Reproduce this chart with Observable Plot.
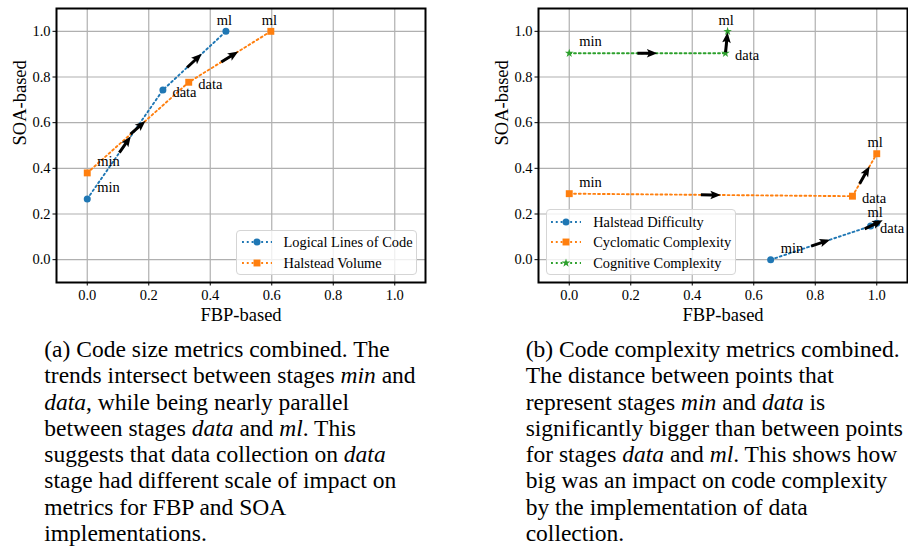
<!DOCTYPE html>
<html><head><meta charset="utf-8">
<script src="https://cdn.jsdelivr.net/npm/d3@7"></script>
<script src="https://cdn.jsdelivr.net/npm/@observablehq/plot@0.6"></script>
<style>
html,body{margin:0;padding:0;background:#fff;}
body{width:908px;height:546px;overflow:hidden;font-family:"Liberation Serif","Times New Roman",serif;color:#000;}
#wrap{display:flex;}
.panel{position:relative;width:454px;flex:none;}
.panel > svg{display:block;}
.caption{font-size:23.5px;line-height:26.3px;white-space:nowrap;margin-top:11px;}
.legend{position:absolute;border:1px solid #d5d5d5;border-radius:4px;background:rgba(255,255,255,0.8);box-sizing:border-box;}
.row{position:absolute;left:0;right:0;height:20px;}
.row svg{position:absolute;top:0;}
.row span{position:absolute;top:0;line-height:20px;font-size:14.4px;white-space:nowrap;}
</style></head>
<body>
<div id="wrap"><div class="panel" id="pa"></div><div class="panel" id="pb"></div></div>
<script>
// ---- data ----
const stages = ["min", "data", "ml"];
const axisTicks = [0, 0.2, 0.4, 0.6, 0.8, 1.0];
const xDomain = [-0.1, 1.1];
const yDomain = [-0.1, 1.1];

const sizeMetrics = ["Logical Lines of Code", "Halstead Volume"];
const sizeFBP = [[0.000, 0.246, 0.451], [0.000, 0.330, 0.597]];
const sizeSOA = [[0.266, 0.743, 1.000], [0.380, 0.777, 1.000]];

const complexityMetrics = ["Halstead Difficulty", "Cyclomatic Complexity", "Cognitive Complexity"];
const complexityFBP = [[0.655, 0.980, 1.000], [0.000, 0.921, 1.000], [0.000, 0.508, 0.515]];
const complexitySOA = [[0.000, 0.147, 0.160], [0.289, 0.278, 0.464], [0.904, 0.904, 1.000]];

const xLabel = "FBP-based";
const yLabel = "SOA-based";

const captionA = [
  "(a) Code size metrics combined. The",
  "trends intersect between stages <i>min</i> and",
  "<i>data</i>, while being nearly parallel",
  "between stages <i>data</i> and <i>ml</i>. This",
  "suggests that data collection on <i>data</i>",
  "stage had different scale of impact on",
  "metrics for FBP and SOA",
  "implementations."
];
const captionB = [
  "(b) Code complexity metrics combined.",
  "The distance between points that",
  "represent stages <i>min</i> and <i>data</i> is",
  "significantly bigger than between points",
  "for stages <i>data</i> and <i>ml</i>. This shows how",
  "big was an impact on code complexity",
  "by the implementation of data",
  "collection."
];

// ---- styles ----
const colors = ["#1f77b4", "#ff7f0e", "#2ca02c"];
const symbols = ["circle", "square", "star"];
const dotR = [3.5, 3.9, 2.7];
const d3Symbols = [d3.symbolCircle, d3.symbolSquare, d3.symbolStar];

const W = 454, H = 325, MT = 8, MB = 43;
const fmt = d3.format(".1f");

const arrowShape = {
  draw(context, l) {
    const sw = 1.5, hw = 4.3, hl = 10.5, ha = 9;
    context.moveTo(-sw, 0);
    context.lineTo(-sw, -l + ha);
    context.lineTo(-hw, -l + hl);
    context.lineTo(0, -l);
    context.lineTo(hw, -l + hl);
    context.lineTo(sw, -l + ha);
    context.lineTo(sw, 0);
    context.closePath();
  }
};

function buildPanel(container, metrics, fbp, soa, marginLeft, marginRight, legend, caption, captionLeft) {
  const kx = (W - marginLeft - marginRight) / (xDomain[1] - xDomain[0]);
  const ky = (H - MT - MB) / (yDomain[1] - yDomain[0]);
  const rows = [], segs = [];
  metrics.forEach((m, i) => {
    stages.forEach((s, j) => rows.push({i, metric: m, stage: s, fbp: fbp[i][j], soa: soa[i][j]}));
    for (let j = 0; j < stages.length - 1; j++) {
      const x1 = fbp[i][j], y1 = soa[i][j], x2 = fbp[i][j + 1], y2 = soa[i][j + 1];
      segs.push({mx: (x1 + x2) / 2, my: (y1 + y2) / 2,
        angle: Math.atan2((x2 - x1) * kx, (y2 - y1) * ky) * 180 / Math.PI});
    }
  });
  const marks = [
    Plot.gridX({ticks: axisTicks, stroke: "#b0b0b0", strokeOpacity: 1, strokeWidth: 1.2}),
    Plot.gridY({ticks: axisTicks, stroke: "#b0b0b0", strokeOpacity: 1, strokeWidth: 1.2})
  ];
  metrics.forEach((m, i) => {
    marks.push(Plot.line(rows.filter(r => r.i === i), {x: "fbp", y: "soa", stroke: colors[i], strokeWidth: 1.9, strokeDasharray: "1.9,2.9"}));
  });
  metrics.forEach((m, i) => {
    marks.push(Plot.dot(rows.filter(r => r.i === i), {x: "fbp", y: "soa", symbol: symbols[i], fill: colors[i], stroke: "none", r: dotR[i]}));
  });
  marks.push(Plot.vector(segs, {x: "mx", y: "my", rotate: "angle", length: 20, anchor: "middle", shape: arrowShape, fill: "black", stroke: "none"}));
  marks.push(Plot.text(rows.filter(r => r.stage === "min"), {x: "fbp", y: "soa", text: "stage", textAnchor: "start", lineAnchor: "bottom", dx: 10, dy: -7}));
  marks.push(Plot.text(rows.filter(r => r.stage === "data"), {x: "fbp", y: "soa", text: "stage", textAnchor: "start", lineAnchor: "bottom", dx: 9.5, dy: 6.5}));
  marks.push(Plot.text(rows.filter(r => r.stage === "ml"), {x: "fbp", y: "soa", text: "stage", textAnchor: "middle", lineAnchor: "bottom", dx: -1.5, dy: -6.5}));
  marks.push(Plot.frame({stroke: "black", strokeWidth: 2}));
  marks.push(Plot.axisX({ticks: axisTicks, tickFormat: fmt, tickSize: 3.5, tickPadding: 4, label: null}));
  marks.push(Plot.axisY({ticks: axisTicks, tickFormat: fmt, tickSize: 3.5, tickPadding: 2.5, label: null}));
  marks.push(Plot.text([xLabel], {text: d => d, frameAnchor: "bottom", lineAnchor: "bottom", dy: 38, fontSize: 18.5}));
  marks.push(Plot.text([yLabel], {text: d => d, frameAnchor: "left", lineAnchor: "bottom", rotate: -90, dx: -31, fontSize: 18.5}));

  const chart = Plot.plot({
    width: W, height: H, marginTop: MT, marginBottom: MB, marginLeft, marginRight,
    x: {domain: xDomain}, y: {domain: yDomain},
    style: {fontFamily: "'Liberation Serif','Times New Roman',serif", fontSize: "14.5px", background: "white", color: "black", overflow: "visible"},
    marks
  });
  container.appendChild(chart);

  // legend
  const lg = document.createElement("div");
  lg.className = "legend";
  Object.assign(lg.style, {left: legend.left + "px", top: legend.top + "px", width: legend.width + "px", height: (metrics.length * 20.6 + 3.5) + "px"});
  metrics.forEach((m, i) => {
    const row = document.createElement("div");
    row.className = "row";
    row.style.top = (11.3 + i * 20.6 - 10) + "px";
    const sym = d3.symbol(d3Symbols[i], Math.PI * dotR[i] * dotR[i])();
    row.innerHTML = `<svg width="30" height="20" style="left:4.5px"><line x1="0" x2="30" y1="10" y2="10" stroke="${colors[i]}" stroke-width="1.9" stroke-dasharray="1.9,2.9"/><path d="${sym}" transform="translate(15,10)" fill="${colors[i]}"/></svg><span style="left:46.5px">${m}</span>`;
    lg.appendChild(row);
  });
  container.appendChild(lg);

  const cap = document.createElement("div");
  cap.className = "caption";
  cap.style.paddingLeft = captionLeft + "px";
  cap.innerHTML = caption.map(l => `<div>${l}</div>`).join("");
  container.appendChild(cap);
}

buildPanel(document.getElementById("pa"), sizeMetrics, sizeFBP, sizeSOA, 56, 29,
  {left: 236, top: 230, width: 181}, captionA, 44.3);
buildPanel(document.getElementById("pb"), complexityMetrics, complexityFBP, complexitySOA, 84, 1,
  {left: 91.7, top: 209.3, width: 190}, captionB, 71.7);
</script>
</body></html>
